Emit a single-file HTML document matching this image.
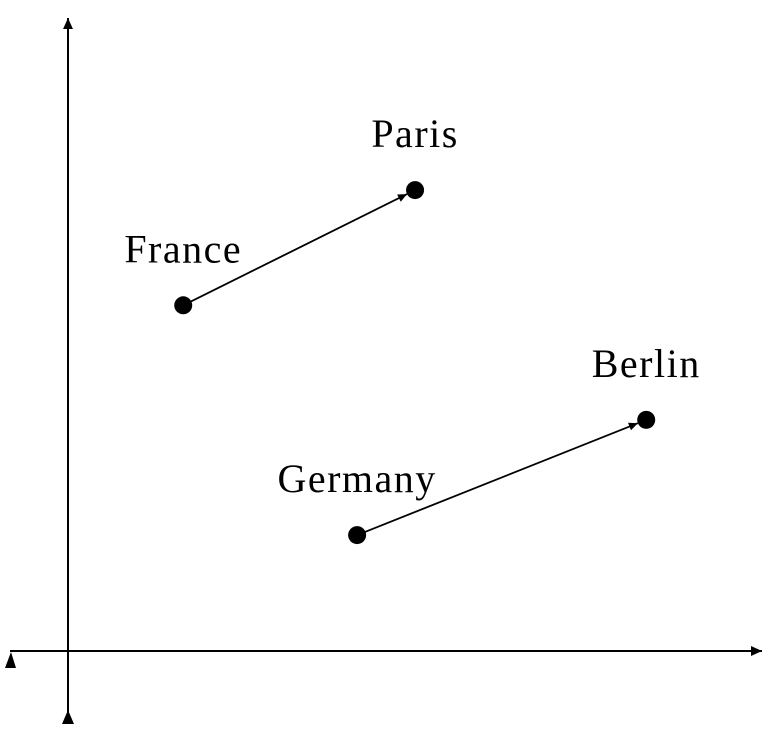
<!DOCTYPE html>
<html><head><meta charset="utf-8"><style>
html,body{margin:0;padding:0;background:#fff;}
svg{display:block;}
text{font-family:"Liberation Serif","DejaVu Serif",serif;font-size:40px;letter-spacing:1.5px;fill:#000;}
</style></head><body>
<svg id="chart" width="778" height="745" viewBox="0 0 778 745">
<defs>
<marker id="ah" viewBox="0 0 10 10" refX="10" refY="5" markerWidth="13" markerHeight="9" orient="auto" markerUnits="userSpaceOnUse"><path d="M0,0.5 L10,5 L0,9.5 z" fill="#000"/></marker>
<marker id="axh" viewBox="0 0 10 10" refX="10" refY="5" markerWidth="15" markerHeight="11" orient="auto" markerUnits="userSpaceOnUse"><path d="M0,0.5 L10,5 L0,9.5 z" fill="#000"/></marker>
</defs>
<g>
<line x1="10" y1="651" x2="762" y2="651" stroke="#000" stroke-width="2" marker-end="url(#axh)"/>
<path d="M11,652 L5,668 L16,668 z" fill="#000"/>
<line x1="68" y1="720" x2="68" y2="18" stroke="#000" stroke-width="2" marker-end="url(#axh)"/>
<path d="M68,710 L62,724 L74,724 z" fill="#000"/>
</g>
<g id="marks"></g>
</svg>
<script>
const labels=["France","Paris","Germany","Berlin"];
const xVals=[1.67,5.03,4.19,8.38];
const yVals=[5.01,6.68,1.68,3.35];
const links=[[0,1],[2,3]];
const X=v=>68+v*69, Y=v=>651-v*69;
const ns="http://www.w3.org/2000/svg";
const g=document.getElementById('marks');
links.forEach(([a,b])=>{
  const x1=X(xVals[a]),y1=Y(yVals[a]),x2=X(xVals[b]),y2=Y(yVals[b]);
  const dx=x2-x1,dy=y2-y1,L=Math.hypot(dx,dy);
  const l=document.createElementNS(ns,'line');
  
  
  l.setAttribute('x1',x1);l.setAttribute('y1',y1);
  l.setAttribute('x2',x2-dx/L*9);l.setAttribute('y2',y2-dy/L*9);
  l.setAttribute('stroke','#000');l.setAttribute('stroke-width','1.8');
  l.setAttribute('marker-end','url(#ah)');
  g.appendChild(l);
});
labels.forEach((n,i)=>{
  const c=document.createElementNS(ns,'circle');
  
  
  c.setAttribute('cx',X(xVals[i]));c.setAttribute('cy',Y(yVals[i]));c.setAttribute('r',9);
  g.appendChild(c);
  const t=document.createElementNS(ns,'text');
  
  
  t.setAttribute('x',X(xVals[i]));t.setAttribute('y',Y(yVals[i])-43);
  t.setAttribute('text-anchor','middle');
  t.textContent=n;
  g.appendChild(t);
});
</script>
</body></html>
